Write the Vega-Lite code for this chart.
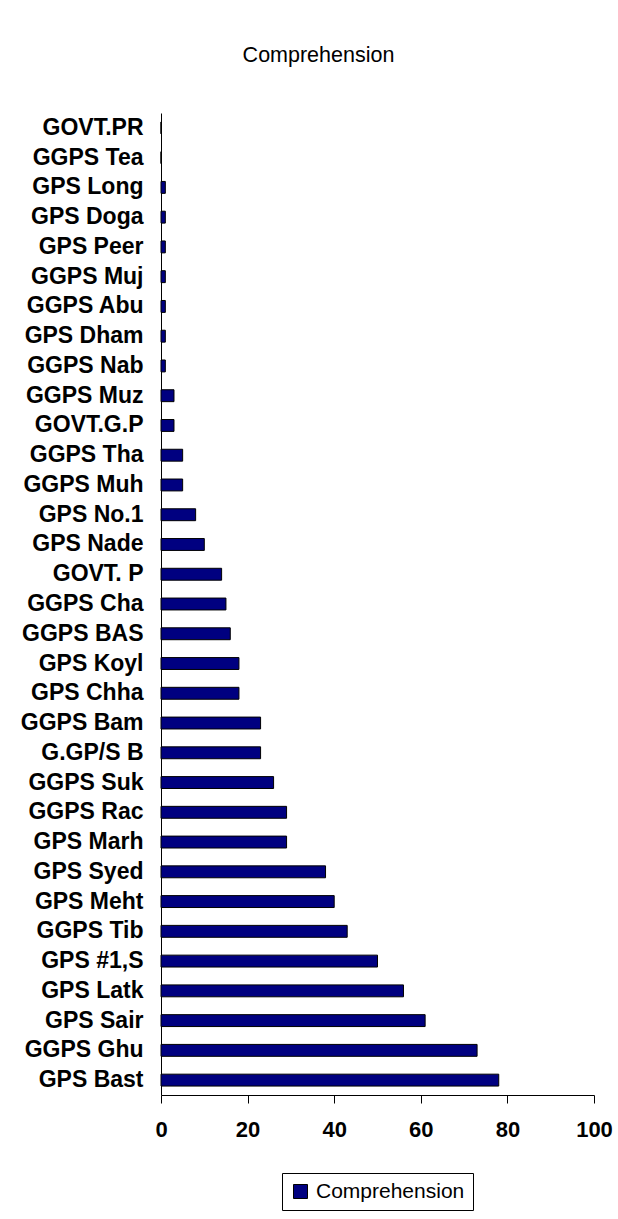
{
  "$schema": "https://vega.github.io/schema/vega-lite/v6.json",
  "width": 433,
  "height": 982,
  "autosize": {"type": "none"},
  "padding": {"left": 161, "top": 113, "right": 24, "bottom": 124},
  "background": "white",
  "title": {
    "text": "Comprehension",
    "font": "Liberation Sans",
    "fontSize": 21.5,
    "fontWeight": "normal",
    "color": "black",
    "anchor": "middle",
    "dx": -59,
    "baseline": "alphabetic",
    "offset": 30
  },
  "data": {
    "values": [
      {"school": "GOVT.PR", "score": 0, "series": "Comprehension"},
      {"school": "GGPS Tea", "score": 0, "series": "Comprehension"},
      {"school": "GPS Long", "score": 1, "series": "Comprehension"},
      {"school": "GPS Doga", "score": 1, "series": "Comprehension"},
      {"school": "GPS Peer", "score": 1, "series": "Comprehension"},
      {"school": "GGPS Muj", "score": 1, "series": "Comprehension"},
      {"school": "GGPS Abu", "score": 1, "series": "Comprehension"},
      {"school": "GPS Dham", "score": 1, "series": "Comprehension"},
      {"school": "GGPS Nab", "score": 1, "series": "Comprehension"},
      {"school": "GGPS Muz", "score": 3, "series": "Comprehension"},
      {"school": "GOVT.G.P", "score": 3, "series": "Comprehension"},
      {"school": "GGPS Tha", "score": 5, "series": "Comprehension"},
      {"school": "GGPS Muh", "score": 5, "series": "Comprehension"},
      {"school": "GPS No.1", "score": 8, "series": "Comprehension"},
      {"school": "GPS Nade", "score": 10, "series": "Comprehension"},
      {"school": "GOVT. P", "score": 14, "series": "Comprehension"},
      {"school": "GGPS Cha", "score": 15, "series": "Comprehension"},
      {"school": "GGPS BAS", "score": 16, "series": "Comprehension"},
      {"school": "GPS Koyl", "score": 18, "series": "Comprehension"},
      {"school": "GPS Chha", "score": 18, "series": "Comprehension"},
      {"school": "GGPS Bam", "score": 23, "series": "Comprehension"},
      {"school": "G.GP/S B", "score": 23, "series": "Comprehension"},
      {"school": "GGPS Suk", "score": 26, "series": "Comprehension"},
      {"school": "GGPS Rac", "score": 29, "series": "Comprehension"},
      {"school": "GPS Marh", "score": 29, "series": "Comprehension"},
      {"school": "GPS Syed", "score": 38, "series": "Comprehension"},
      {"school": "GPS Meht", "score": 40, "series": "Comprehension"},
      {"school": "GGPS Tib", "score": 43, "series": "Comprehension"},
      {"school": "GPS #1,S", "score": 50, "series": "Comprehension"},
      {"school": "GPS Latk", "score": 56, "series": "Comprehension"},
      {"school": "GPS Sair", "score": 61, "series": "Comprehension"},
      {"school": "GGPS Ghu", "score": 73, "series": "Comprehension"},
      {"school": "GPS Bast", "score": 78, "series": "Comprehension"}
    ]
  },
  "mark": {"type": "bar", "stroke": "black", "strokeWidth": 1},
  "encoding": {
    "y": {
      "field": "school",
      "type": "nominal",
      "sort": null,
      "scale": {"paddingInner": 0.6, "paddingOuter": 0.3},
      "axis": {
        "title": null,
        "ticks": false,
        "labelPadding": 18,
        "labelFont": "Liberation Sans",
        "labelFontSize": 23,
        "labelFontWeight": "bold",
        "labelColor": "black",
        "domainColor": "black",
        "domainWidth": 1,
        "grid": false
      }
    },
    "x": {
      "field": "score",
      "type": "quantitative",
      "scale": {"domain": [0, 100], "nice": false},
      "axis": {
        "title": null,
        "values": [0, 20, 40, 60, 80, 100],
        "tickSize": 8,
        "tickColor": "black",
        "domainColor": "black",
        "labelPadding": 16,
        "labelFont": "Liberation Sans",
        "labelFontSize": 22,
        "labelFontWeight": "bold",
        "labelColor": "black",
        "labelFlush": false,
        "grid": false
      }
    },
    "color": {
      "field": "series",
      "type": "nominal",
      "scale": {"range": ["#000080"]},
      "legend": {
        "title": null,
        "orient": "none",
        "legendX": 121,
        "legendY": 1060,
        "strokeColor": "black",
        "fillColor": "white",
        "padding": 8,
        "symbolType": "square",
        "symbolSize": 196,
        "symbolStrokeColor": "black",
        "symbolStrokeWidth": 1,
        "symbolOpacity": 1,
        "labelFont": "Liberation Sans",
        "labelFontSize": 21,
        "labelColor": "black",
        "labelOffset": 5
      }
    }
  },
  "config": {"view": {"stroke": null}}
}
